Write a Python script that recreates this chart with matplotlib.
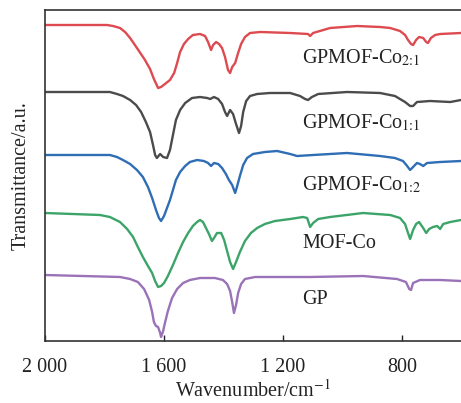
import matplotlib
matplotlib.use("Agg")
import matplotlib.pyplot as plt
from matplotlib.ticker import FixedLocator

plt.rcParams['font.family'] = ['Liberation Serif', 'DejaVu Serif']
plt.rcParams['mathtext.fontset'] = 'stix'

# FTIR spectra, wavenumber (cm-1) vs transmittance (a.u., stacked)
wn_21 = [2000, 1792, 1771, 1748, 1731, 1714, 1691, 1664, 1647, 1634,
         1620, 1610, 1597, 1580, 1566, 1556, 1546, 1533, 1519, 1503,
         1479, 1462, 1452, 1442, 1435, 1425, 1415, 1405, 1395, 1385,
         1378, 1371, 1361, 1351, 1341, 1328, 1311, 1277, 1176, 1116,
         1109, 1099, 1042, 951, 874, 840, 807, 790, 780, 770,
         763, 753, 743, 729, 719, 713, 703, 689, 672, 602]
t_21 = [316, 316, 315, 313, 309, 303, 293, 281, 272, 262,
        253, 254, 257, 261, 268, 278, 289, 297, 302, 306,
        307, 305, 299, 291, 296, 299, 297, 293, 284, 271,
        268, 274, 278, 288, 297, 304, 308, 309, 308, 307,
        305, 308, 313, 315, 314, 313, 310, 306, 301, 297,
        296, 301, 304, 303, 299, 298, 303, 306, 307, 308]

wn_11 = [2000, 1782, 1758, 1738, 1714, 1694, 1677, 1661, 1647, 1637,
         1630, 1624, 1613, 1603, 1590, 1580, 1570, 1560, 1546, 1529,
         1506, 1479, 1455, 1445, 1432, 1418, 1405, 1395, 1388, 1378,
         1368, 1358, 1348, 1341, 1334, 1324, 1311, 1287, 1244, 1176,
         1143, 1126, 1116, 1103, 1082, 985, 874, 824, 790, 773,
         763, 750, 706, 638, 602]
t_11 = [249, 249, 247, 245, 241, 236, 229, 219, 209, 196,
        186, 183, 187, 184, 183, 191, 206, 221, 231, 238,
        243, 244, 243, 242, 244, 242, 237, 229, 225, 231,
        227, 217, 208, 215, 229, 240, 245, 247, 248, 248,
        245, 242, 241, 244, 247, 249, 248, 245, 239, 235,
        235, 239, 240, 239, 241]

wn_12 = [2000, 1782, 1758, 1738, 1714, 1691, 1671, 1654, 1640, 1627,
         1617, 1610, 1600, 1590, 1580, 1570, 1560, 1546, 1529, 1513,
         1489, 1466, 1452, 1442, 1432, 1418, 1405, 1392, 1382, 1371,
         1361, 1355, 1345, 1334, 1321, 1301, 1261, 1220, 1176, 1153,
         1099, 985, 874, 824, 797, 783, 773, 763, 750, 740,
         729, 716, 672, 602]
t_12 = [186, 186, 184, 181, 177, 171, 164, 154, 143, 131,
        123, 120, 125, 133, 141, 151, 161, 169, 175, 179,
        181, 180, 178, 175, 178, 177, 173, 167, 161, 156,
        148, 154, 165, 176, 183, 187, 189, 190, 187, 185,
        186, 188, 185, 183, 180, 175, 171, 174, 178, 177,
        175, 178, 179, 180]

wn_mof = [2000, 1815, 1782, 1748, 1724, 1704, 1688, 1671, 1654, 1640,
          1630, 1620, 1610, 1600, 1587, 1570, 1553, 1536, 1519, 1503,
          1489, 1479, 1469, 1459, 1449, 1439, 1432, 1422, 1408, 1398,
          1388, 1378, 1368, 1358, 1345, 1328, 1308, 1287, 1261, 1227,
          1176, 1133, 1119, 1109, 1099, 1082, 1042, 931, 840, 807,
          790, 780, 773, 763, 753, 743, 729, 719, 709, 696,
          682, 672, 662, 638, 602]
t_mof = [128, 126, 124, 119, 112, 104, 94, 84, 75, 68,
         60, 54, 55, 58, 65, 76, 88, 99, 108, 115,
         119, 121, 119, 113, 107, 100, 103, 108, 108, 101,
         90, 79, 72, 79, 89, 100, 108, 113, 117, 120,
         122, 124, 123, 114, 118, 122, 124, 128, 126, 123,
         117, 108, 102, 111, 117, 119, 113, 108, 112, 114,
         115, 112, 117, 119, 121]

wn_gp = [2000, 1748, 1714, 1688, 1667, 1650, 1640, 1634, 1627, 1620,
         1613, 1610, 1603, 1597, 1587, 1573, 1556, 1536, 1513, 1479,
         1429, 1402, 1388, 1378, 1371, 1365, 1358, 1351, 1341, 1328,
         1294, 1220, 1109, 931, 817, 787, 776, 770, 763, 740,
         672, 602]
t_gp = [66, 64, 62, 59, 52, 41, 29, 19, 15, 14,
        8, 4, 10, 18, 30, 43, 52, 58, 61, 63,
        63, 61, 57, 50, 39, 28, 36, 48, 57, 62,
        64, 64, 64, 65, 62, 59, 52, 51, 58, 61,
        61, 60]

names = [r'GPMOF-Co$_{\text{2:1}}$', r'GPMOF-Co$_{\text{1:1}}$',
         r'GPMOF-Co$_{\text{1:2}}$', 'MOF-Co', 'GP']
colors = ['#dd4a50', '#4b4b4b', '#2f6db5', '#3ca469', '#9a72b8']
label_y = [283, 218, 156, 98, 41]

series = [(wn_21, t_21), (wn_11, t_11), (wn_12, t_12), (wn_mof, t_mof), (wn_gp, t_gp)]

fig = plt.figure(figsize=(4.61, 4.03), dpi=100)
ax = fig.add_axes([45 / 461, 62 / 403, 1 - 45 / 461, 331 / 403])

for (x, y), c, name, ly in zip(series, colors, names, label_y):
    ax.plot(x, y, color=c, lw=1.7, solid_joinstyle='round', solid_capstyle='round')
    ax.text(1136, ly, name, fontsize=14.5, ha='left', va='center', color='#222222')

ax.set_xlim(2000, 602)
ax.set_ylim(0, 331)
ax.xaxis.set_major_locator(FixedLocator([2000, 1600, 1200, 800]))
ax.set_xticklabels(['2 000', '1 600', '1 200', '800'])
ax.set_yticks([])
ax.tick_params(axis='x', direction='in', length=4, width=1, pad=12,
               labelsize=14.5, colors='#222222')
for s in ['top', 'left', 'bottom']:
    ax.spines[s].set_linewidth(1.2)
    ax.spines[s].set_color('#333333')
ax.spines['right'].set_visible(False)

ax.set_xlabel('Wavenumber/cm$^{-1}$', fontsize=14.5, labelpad=2, color='#222222')
ax.set_ylabel('Transmittance/a.u.', fontsize=14.5, labelpad=10, color='#222222')

fig.savefig('out.png', dpi=100)
